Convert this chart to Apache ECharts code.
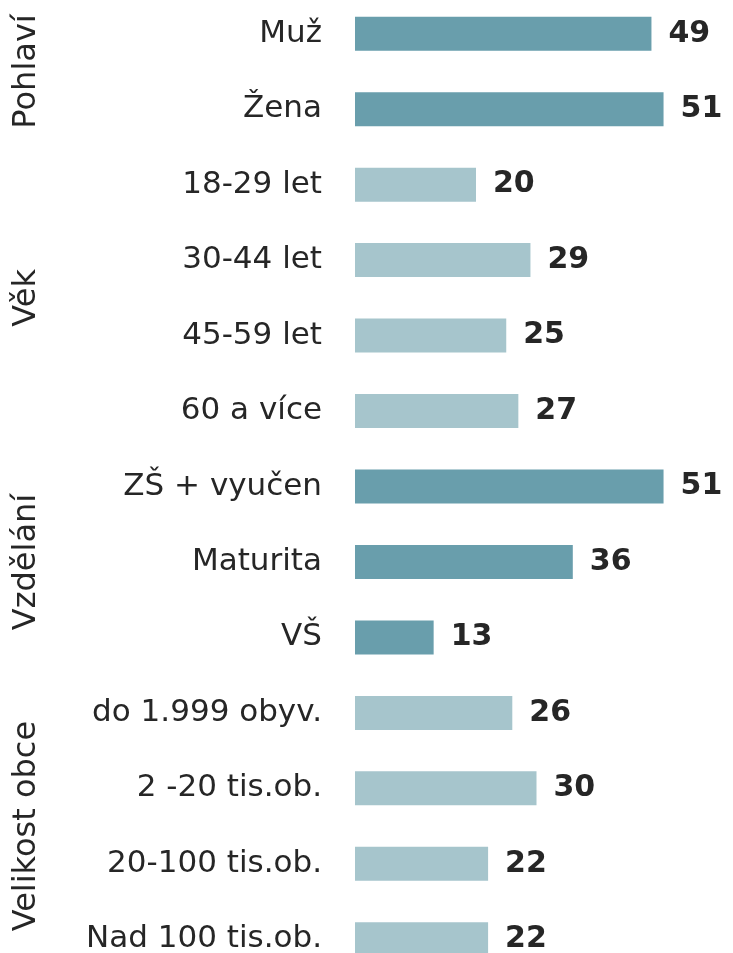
<!DOCTYPE html>
<html>
<head>
<meta charset="utf-8">
<script src="https://cdn.jsdelivr.net/npm/echarts@6/dist/echarts.min.js"></script>
<style>
  html, body { margin: 0; padding: 0; background: #fff; }
  #chart { width: 733px; height: 953px; }
</style>
</head>
<body>
<div id="chart"></div>
<script>
  // kategorie shora dolů
  var categories = ['Muž', 'Žena', '18-29 let', '30-44 let', '45-59 let', '60 a více',
    'ZŠ + vyučen', 'Maturita', 'VŠ', 'do 1.999 obyv.', '2 -20 tis.ob.', '20-100 tis.ob.', 'Nad 100 tis.ob.'];
  var values = [49, 51, 20, 29, 25, 27, 51, 36, 13, 26, 30, 22, 22];
  var groups = ['Pohlaví', 'Věk', 'Vzdělání', 'Velikost obce'];
  var groupSizes = [2, 4, 3, 4];

  var groupColors = ['#699eac', '#a6c5cc', '#699eac', '#a6c5cc'];
  var font = 'Verdana, "DejaVu Sans", sans-serif';

  var groupIndex = [];
  groupSizes.forEach(function (n, g) {
    for (var i = 0; i < n; i++) groupIndex.push(g);
  });

  var chart = echarts.init(document.getElementById('chart'));
  var option = {
    animation: false,
    grid: { left: 355, top: -4, width: 363, height: 981, outerBoundsMode: 'none' },
    xAxis: {
      type: 'value', min: 0, max: 60, show: false
    },
    yAxis: {
      type: 'category',
      inverse: true,
      data: categories,
      axisLine: { show: false },
      axisTick: { show: false },
      axisLabel: {
        margin: 33,
        fontFamily: font,
        fontSize: 31,
        color: '#262626'
      }
    },
    series: [{
      type: 'bar',
      barWidth: 34,
      data: values.map(function (v, i) {
        return { value: v, itemStyle: { color: groupColors[groupIndex[i]] } };
      }),
      label: {
        show: true,
        position: 'right',
        distance: 17,
        fontFamily: font,
        fontWeight: 'bold',
        fontSize: 30,
        color: '#262626'
      }
    }]
  };
  chart.setOption(option);

  // popisky skupin, svisle uprostřed každé skupiny
  var texts = [];
  var start = 0;
  groups.forEach(function (name, g) {
    var first = chart.convertToPixel({ yAxisIndex: 0 }, categories[start]);
    var last = chart.convertToPixel({ yAxisIndex: 0 }, categories[start + groupSizes[g] - 1]);
    texts.push({
      type: 'text',
      x: 27,
      y: (first + last) / 2,
      rotation: Math.PI / 2,
      style: {
        text: name,
        fontFamily: font,
        fontSize: 32,
        fill: '#262626',
        align: 'center',
        verticalAlign: 'middle'
      }
    });
    start += groupSizes[g];
  });
  chart.setOption({ graphic: texts });
</script>
</body>
</html>
